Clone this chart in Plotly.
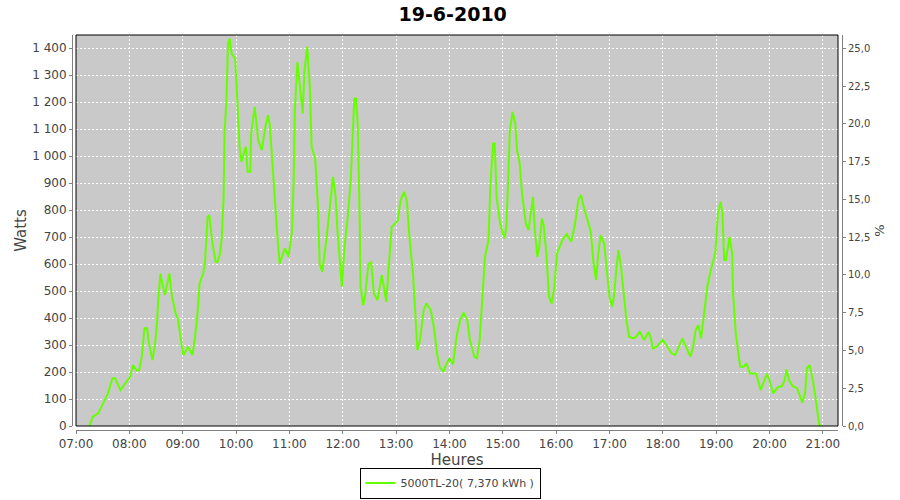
import plotly.graph_objects as go

# ---- data ----
times = [
    "07:15", "07:19", "07:25", "07:32", "07:36", "07:41", "07:44", "07:50", "07:55",
    "08:01", "08:04", "08:08", "08:11", "08:14", "08:17", "08:20", "08:22", "08:26", "08:29",
    "08:31", "08:33", "08:35", "08:37", "08:40", "08:45", "08:48", "08:52", "08:55", "08:59",
    "09:01", "09:06", "09:11", "09:14", "09:17", "09:19", "09:23", "09:25", "09:28", "09:30",
    "09:33", "09:37", "09:39", "09:42", "09:44", "09:46", "09:47", "09:49", "09:50", "09:51",
    "09:53", "09:55", "09:59", "10:01", "10:02", "10:04", "10:06", "10:11", "10:13", "10:16",
    "10:17", "10:21", "10:25", "10:29", "10:33", "10:36", "10:38", "10:42", "10:46", "10:49",
    "10:55", "10:59", "11:03", "11:05", "11:06", "11:09", "11:12", "11:15", "11:17", "11:20",
    "11:23", "11:25", "11:29", "11:32", "11:34", "11:37", "11:42", "11:46", "11:49", "11:52",
    "11:54", "11:57", "11:59", "12:02", "12:06", "12:09", "12:11", "12:13", "12:15", "12:17",
    "12:19", "12:20", "12:23", "12:25", "12:29", "12:32", "12:35", "12:39", "12:44", "12:49",
    "12:52", "12:55", "12:59", "13:02", "13:05", "13:09", "13:12", "13:15", "13:19", "13:21",
    "13:24", "13:27", "13:31", "13:34", "13:39", "13:43", "13:46", "13:49", "13:53", "13:57",
    "14:00", "14:04", "14:08", "14:12", "14:16", "14:20", "14:23", "14:28", "14:31", "14:34",
    "14:37", "14:40", "14:44", "14:46", "14:49", "14:51", "14:53", "14:57", "15:02", "15:04",
    "15:06", "15:08", "15:11", "15:14", "15:16", "15:19", "15:22", "15:26", "15:29", "15:34",
    "15:36", "15:39", "15:41", "15:44", "15:46", "15:49", "15:52", "15:55", "15:58", "16:01",
    "16:07", "16:12", "16:17", "16:21", "16:25", "16:28", "16:31", "16:36", "16:39", "16:42",
    "16:45", "16:47", "16:50", "16:54", "16:57", "17:00", "17:03", "17:05", "17:08", "17:10",
    "17:13", "17:16", "17:19", "17:22", "17:27", "17:30", "17:34", "17:39", "17:44", "17:46",
    "17:49", "17:53", "18:00", "18:04", "18:10", "18:14", "18:19", "18:22", "18:26", "18:31",
    "18:34", "18:37", "18:40", "18:43", "18:46", "18:50", "18:54", "18:57", "18:59", "19:02",
    "19:05", "19:07", "19:09", "19:11", "19:13", "19:15", "19:18", "19:19", "19:22", "19:25",
    "19:27", "19:31", "19:34", "19:38", "19:45", "19:50", "19:54", "19:57", "20:00", "20:04",
    "20:09", "20:14", "20:17", "20:19", "20:22", "20:26", "20:31", "20:34", "20:37", "20:40",
    "20:42", "20:45", "20:48", "20:51", "20:54", "20:56", "20:59",
]
watts = [
    0, 35, 47, 96, 121, 177, 177, 133, 158,
    183, 226, 207, 207, 257, 362, 362, 306, 244, 306,
    380, 491, 565, 528, 485, 565, 479, 417, 393, 294,
    263, 294, 263, 331, 430, 528, 565, 602, 775, 781,
    689, 609, 607, 639, 701, 849, 1084, 1195, 1318, 1417,
    1436, 1380, 1362, 1244, 1170, 1035, 979, 1035, 942, 942,
    1084, 1183, 1059, 1022, 1109, 1152, 1115, 899, 726, 602,
    658, 627, 726, 936, 1158, 1349, 1257, 1158, 1318, 1405,
    1257, 1035, 991, 825, 602, 571, 701, 825, 923, 849,
    726, 602, 516, 664, 788, 911, 1096, 1214, 1214, 1109,
    775, 516, 448, 479, 602, 607, 491, 467, 559, 460,
    602, 738, 750, 763, 837, 868, 837, 701, 565, 442,
    281, 319, 430, 454, 430, 356, 269, 220, 201, 232,
    251, 228, 331, 393, 420, 393, 319, 257, 251, 319,
    479, 627, 689, 886, 1047, 1047, 849, 750, 695, 738,
    911, 1096, 1164, 1121, 1022, 973, 849, 750, 726, 849,
    726, 627, 664, 769, 744, 639, 479, 454, 516, 639,
    689, 711, 683, 744, 837, 856, 812, 757, 720, 602,
    541, 627, 707, 677, 565, 479, 442, 479, 590, 652,
    590, 479, 393, 331, 325, 331, 349, 319, 349, 331,
    288, 294, 319, 300, 269, 263, 306, 325, 294, 257,
    294, 356, 374, 325, 405, 516, 578, 615, 640, 788,
    831, 788, 615, 615, 664, 701, 640, 491, 343, 257,
    220, 220, 232, 195, 195, 133, 170, 193, 170, 121,
    143, 148, 170, 210, 170, 148, 140, 109, 86, 121,
    214, 226, 183, 121, 47, 4, 0,
]
day = "2010-06-19"
series_name = "5000TL-20( 7,370 kWh )"
title_text = "19-6-2010"
x_ticks = ["07:00", "08:00", "09:00", "10:00", "11:00", "12:00", "13:00", "14:00",
           "15:00", "16:00", "17:00", "18:00", "19:00", "20:00", "21:00"]
y_ticks = [0, 100, 200, 300, 400, 500, 600, 700, 800, 900, 1000, 1100, 1200, 1300, 1400]
pct_ticks = [0, 2.5, 5, 7.5, 10, 12.5, 15, 17.5, 20, 22.5, 25]
watts_max = 1449
watts_per_pct = 56.0   # 25 % <-> 1400 W
x_start, x_end = "07:00", "21:17"

x_vals = [f"{day} {t}" for t in times]
pct_vals = [w / watts_per_pct for w in watts]

FONT = "DejaVu Sans"
GRAY = "#808080"
TXT = "#444444"

fig = go.Figure()
fig.add_trace(go.Scatter(
    x=x_vals, y=watts, mode="lines", name=series_name,
    line=dict(color="#66ff00", width=2),
))
# same series expressed in % on the right axis (invisible, keeps axis drawn)
fig.add_trace(go.Scatter(
    x=x_vals, y=pct_vals, mode="lines", yaxis="y2", showlegend=False,
    hoverinfo="skip", line=dict(color="rgba(0,0,0,0)", width=0),
))

fig.update_layout(
    width=900, height=500,
    paper_bgcolor="white", plot_bgcolor="#c9c9c9",
    margin=dict(l=10, r=10, t=35, b=60, autoexpand=False),
    separators=", ",
    font=dict(family=FONT, size=12, color=TXT),
    title=dict(text="<b>" + title_text + "</b>", x=0.503, xanchor="center",
               y=1 - 14 / 500, yanchor="middle", yref="container",
               font=dict(family=FONT, size=19, color="black")),
    showlegend=True,
    legend=dict(orientation="h", x=0.5, xanchor="center", y=-0.068, yanchor="top",
                bordercolor="black", borderwidth=1, bgcolor="white",
                font=dict(family=FONT, size=11, color=TXT), itemwidth=30,
                tracegroupgap=0),
    xaxis=dict(
        domain=[66 / 880, 828 / 880], anchor="free", position=10.5 / 405,
        type="date", range=[f"{day} {x_start}", f"{day} {x_end}"],
        tickvals=[f"{day} {t}" for t in x_ticks], ticktext=x_ticks,
        showline=True, linecolor=GRAY, linewidth=1,
        ticks="outside", ticklen=3, tickcolor=GRAY,
        showgrid=True, gridcolor="white", griddash="2px,2px", gridwidth=1,
        zeroline=False, automargin=False,
        tickfont=dict(family=FONT, size=12, color=TXT),
        title=dict(text="Heures", standoff=4, font=dict(family=FONT, size=15, color=TXT)),
    ),
    yaxis=dict(
        domain=[14 / 405, 1], anchor="free", position=62 / 880,
        range=[0, watts_max], tickvals=y_ticks, tickformat=",d",
        showline=True, linecolor=GRAY, linewidth=1,
        ticks="outside", ticklen=3, tickcolor=GRAY,
        showgrid=True, gridcolor="white", griddash="2px,2px", gridwidth=1,
        zeroline=False, automargin=False,
        tickfont=dict(family=FONT, size=12, color=TXT),
        title=dict(text="Watts", standoff=0, font=dict(family=FONT, size=15, color=TXT)),
    ),
    yaxis2=dict(
        overlaying="y", side="right", anchor="free", position=832 / 880,
        range=[0, watts_max / watts_per_pct], tickvals=pct_ticks, tickformat=".1f",
        showline=True, linecolor=GRAY, linewidth=1,
        ticks="outside", ticklen=3, tickcolor=GRAY,
        showgrid=False, zeroline=False, automargin=False,
        tickfont=dict(family=FONT, size=10, color=TXT),
        title=dict(text="%", standoff=5, font=dict(family=FONT, size=13, color=TXT)),
    ),
)

# plot-area border
fig.add_shape(type="rect", xref="x domain", yref="y domain", x0=0, x1=1, y0=0, y1=1,
              line=dict(color="black", width=1), fillcolor="rgba(0,0,0,0)", layer="above")

fig.write_html("out.html", config={"displayModeBar": False},
               post_script="document.body.style.margin='0';document.body.style.overflow='hidden';")
